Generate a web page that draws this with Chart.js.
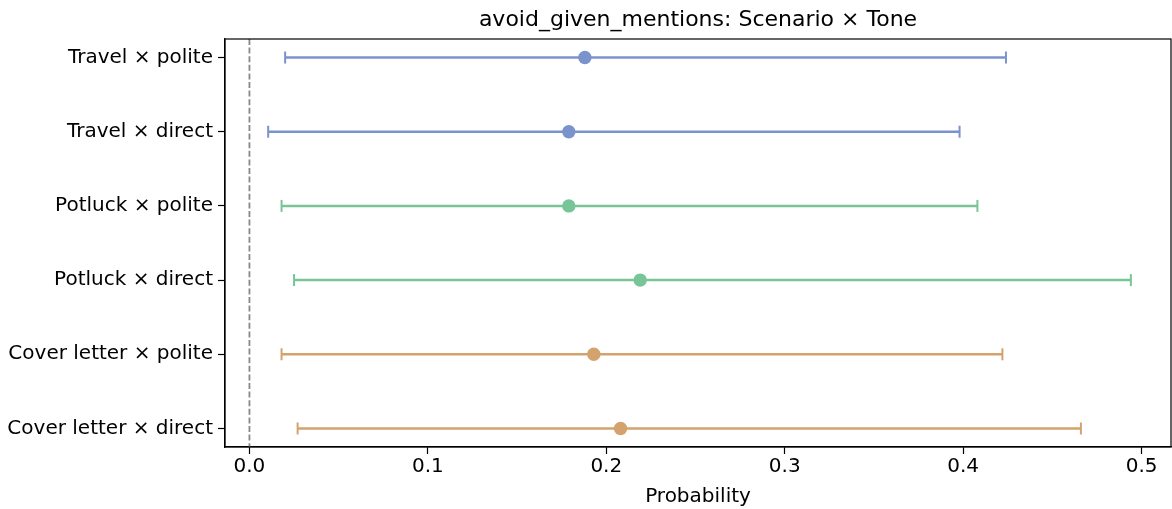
<!DOCTYPE html>
<html>
<head>
<meta charset="utf-8">
<script src="https://cdn.jsdelivr.net/npm/chart.js@4"></script>
<style>
  html, body { margin: 0; padding: 0; background: #fff; }
</style>
</head>
<body>
<canvas id="ci-chart" width="1172" height="509"></canvas>
<script>
const rowLabels = [
  "Travel \u00d7 polite",
  "Travel \u00d7 direct",
  "Potluck \u00d7 polite",
  "Potluck \u00d7 direct",
  "Cover letter \u00d7 polite",
  "Cover letter \u00d7 direct",
];
const means = [0.188, 0.179, 0.179, 0.219, 0.193, 0.208];
const lows = [0.020, 0.0105, 0.018, 0.025, 0.018, 0.027];
const highs = [0.424, 0.398, 0.408, 0.494, 0.422, 0.466];
const rowColors = ["#7b93cc", "#7b93cc", "#78c597", "#78c597", "#d4a36d", "#d4a36d"];
const xTicks = [0, 0.1, 0.2, 0.3, 0.4, 0.5];

const font = "'DejaVu Sans', sans-serif";

let datasets = [];
rowLabels.forEach((label, i) => {
  datasets.push({
    label: label + " mean",
    data: [{ x: means[i], y: i }],
    backgroundColor: rowColors[i],
    borderColor: rowColors[i],
    pointRadius: 6.7,
    pointBorderWidth: 0,
    showLine: false,
    order: 0,
  });
  datasets.push({
    label: label + " interval",
    data: [{ x: lows[i], y: i }, { x: highs[i], y: i }],
    borderColor: rowColors[i],
    borderWidth: 2.5,
    showLine: true,
    pointStyle: "line",
    pointRotation: 90,
    pointRadius: 6,
    pointBorderWidth: 2,
    pointBorderColor: rowColors[i],
    order: 1,
  });
});
datasets.push({
  label: "zero",
  data: [{ x: 0, y: -0.25 }, { x: 0, y: 5.25 }],
  borderColor: "#888888",
  borderWidth: 1.8,
  borderDash: [6, 2.6],
  showLine: true,
  pointRadius: 0,
  order: 2,
});

const framePlugin = {
  id: "frame",
  afterDraw(chart) {
    const { ctx, chartArea } = chart;
    ctx.save();
    ctx.strokeStyle = "#000";
    ctx.lineWidth = 1.2;
    ctx.strokeRect(chartArea.left, chartArea.top, chartArea.right - chartArea.left, chartArea.bottom - chartArea.top);
    ctx.fillStyle = "#000";
    ctx.font = "22px " + font;
    ctx.textAlign = "center";
    ctx.textBaseline = "middle";
    ctx.fillText("avoid_given_mentions: Scenario \u00d7 Tone", (chartArea.left + chartArea.right) / 2, 20);
    ctx.restore();
  },
};

let ctx = document.getElementById("ci-chart").getContext("2d");
window.myChart = new Chart(ctx, {
  type: "scatter",
  data: { datasets: datasets },
  options: {
    responsive: false,
    animation: false,
    devicePixelRatio: 1,
    layout: { autoPadding: false, padding: { top: 39, right: 1, left: 0, bottom: 0 } },
    plugins: {
      legend: { display: false },
      tooltip: { enabled: false },
    },
    scales: {
      x: {
        type: "linear",
        min: -0.0137,
        max: 0.5165,
        afterBuildTicks: (scale) => { scale.ticks = xTicks.map((v) => ({ value: v })); },
        afterFit: (scale) => {
          scale.height = 62;
          scale.paddingLeft = 0;
          scale.paddingRight = 0;
        },
        grid: { drawOnChartArea: false, tickLength: 7, tickColor: "#000", tickWidth: 1.2 },
        border: { color: "#000", width: 1.2 },
        ticks: {
          color: "#000",
          padding: 1,
          font: { family: font, size: 20 },
          callback: (v) => Number(v).toFixed(1),
        },
        title: {
          display: true,
          text: "Probability",
          color: "#000",
          font: { family: font, size: 20 },
          padding: { top: 0, bottom: 0 },
        },
      },
      y: {
        type: "linear",
        reverse: true,
        min: -0.25,
        max: 5.25,
        afterBuildTicks: (scale) => { scale.ticks = rowLabels.map((_, i) => ({ value: i })); },
        afterFit: (scale) => {
          scale.width = 225;
          scale.paddingTop = 0;
          scale.paddingBottom = 0;
        },
        grid: { drawOnChartArea: false, tickLength: 7, tickColor: "#000", tickWidth: 1.2 },
        border: { color: "#000", width: 1.2 },
        ticks: {
          color: "#000",
          padding: 5,
          font: { family: font, size: 20 },
          callback: (v) => rowLabels[v],
        },
      },
    },
  },
  plugins: [framePlugin],
});
</script>
</body>
</html>
